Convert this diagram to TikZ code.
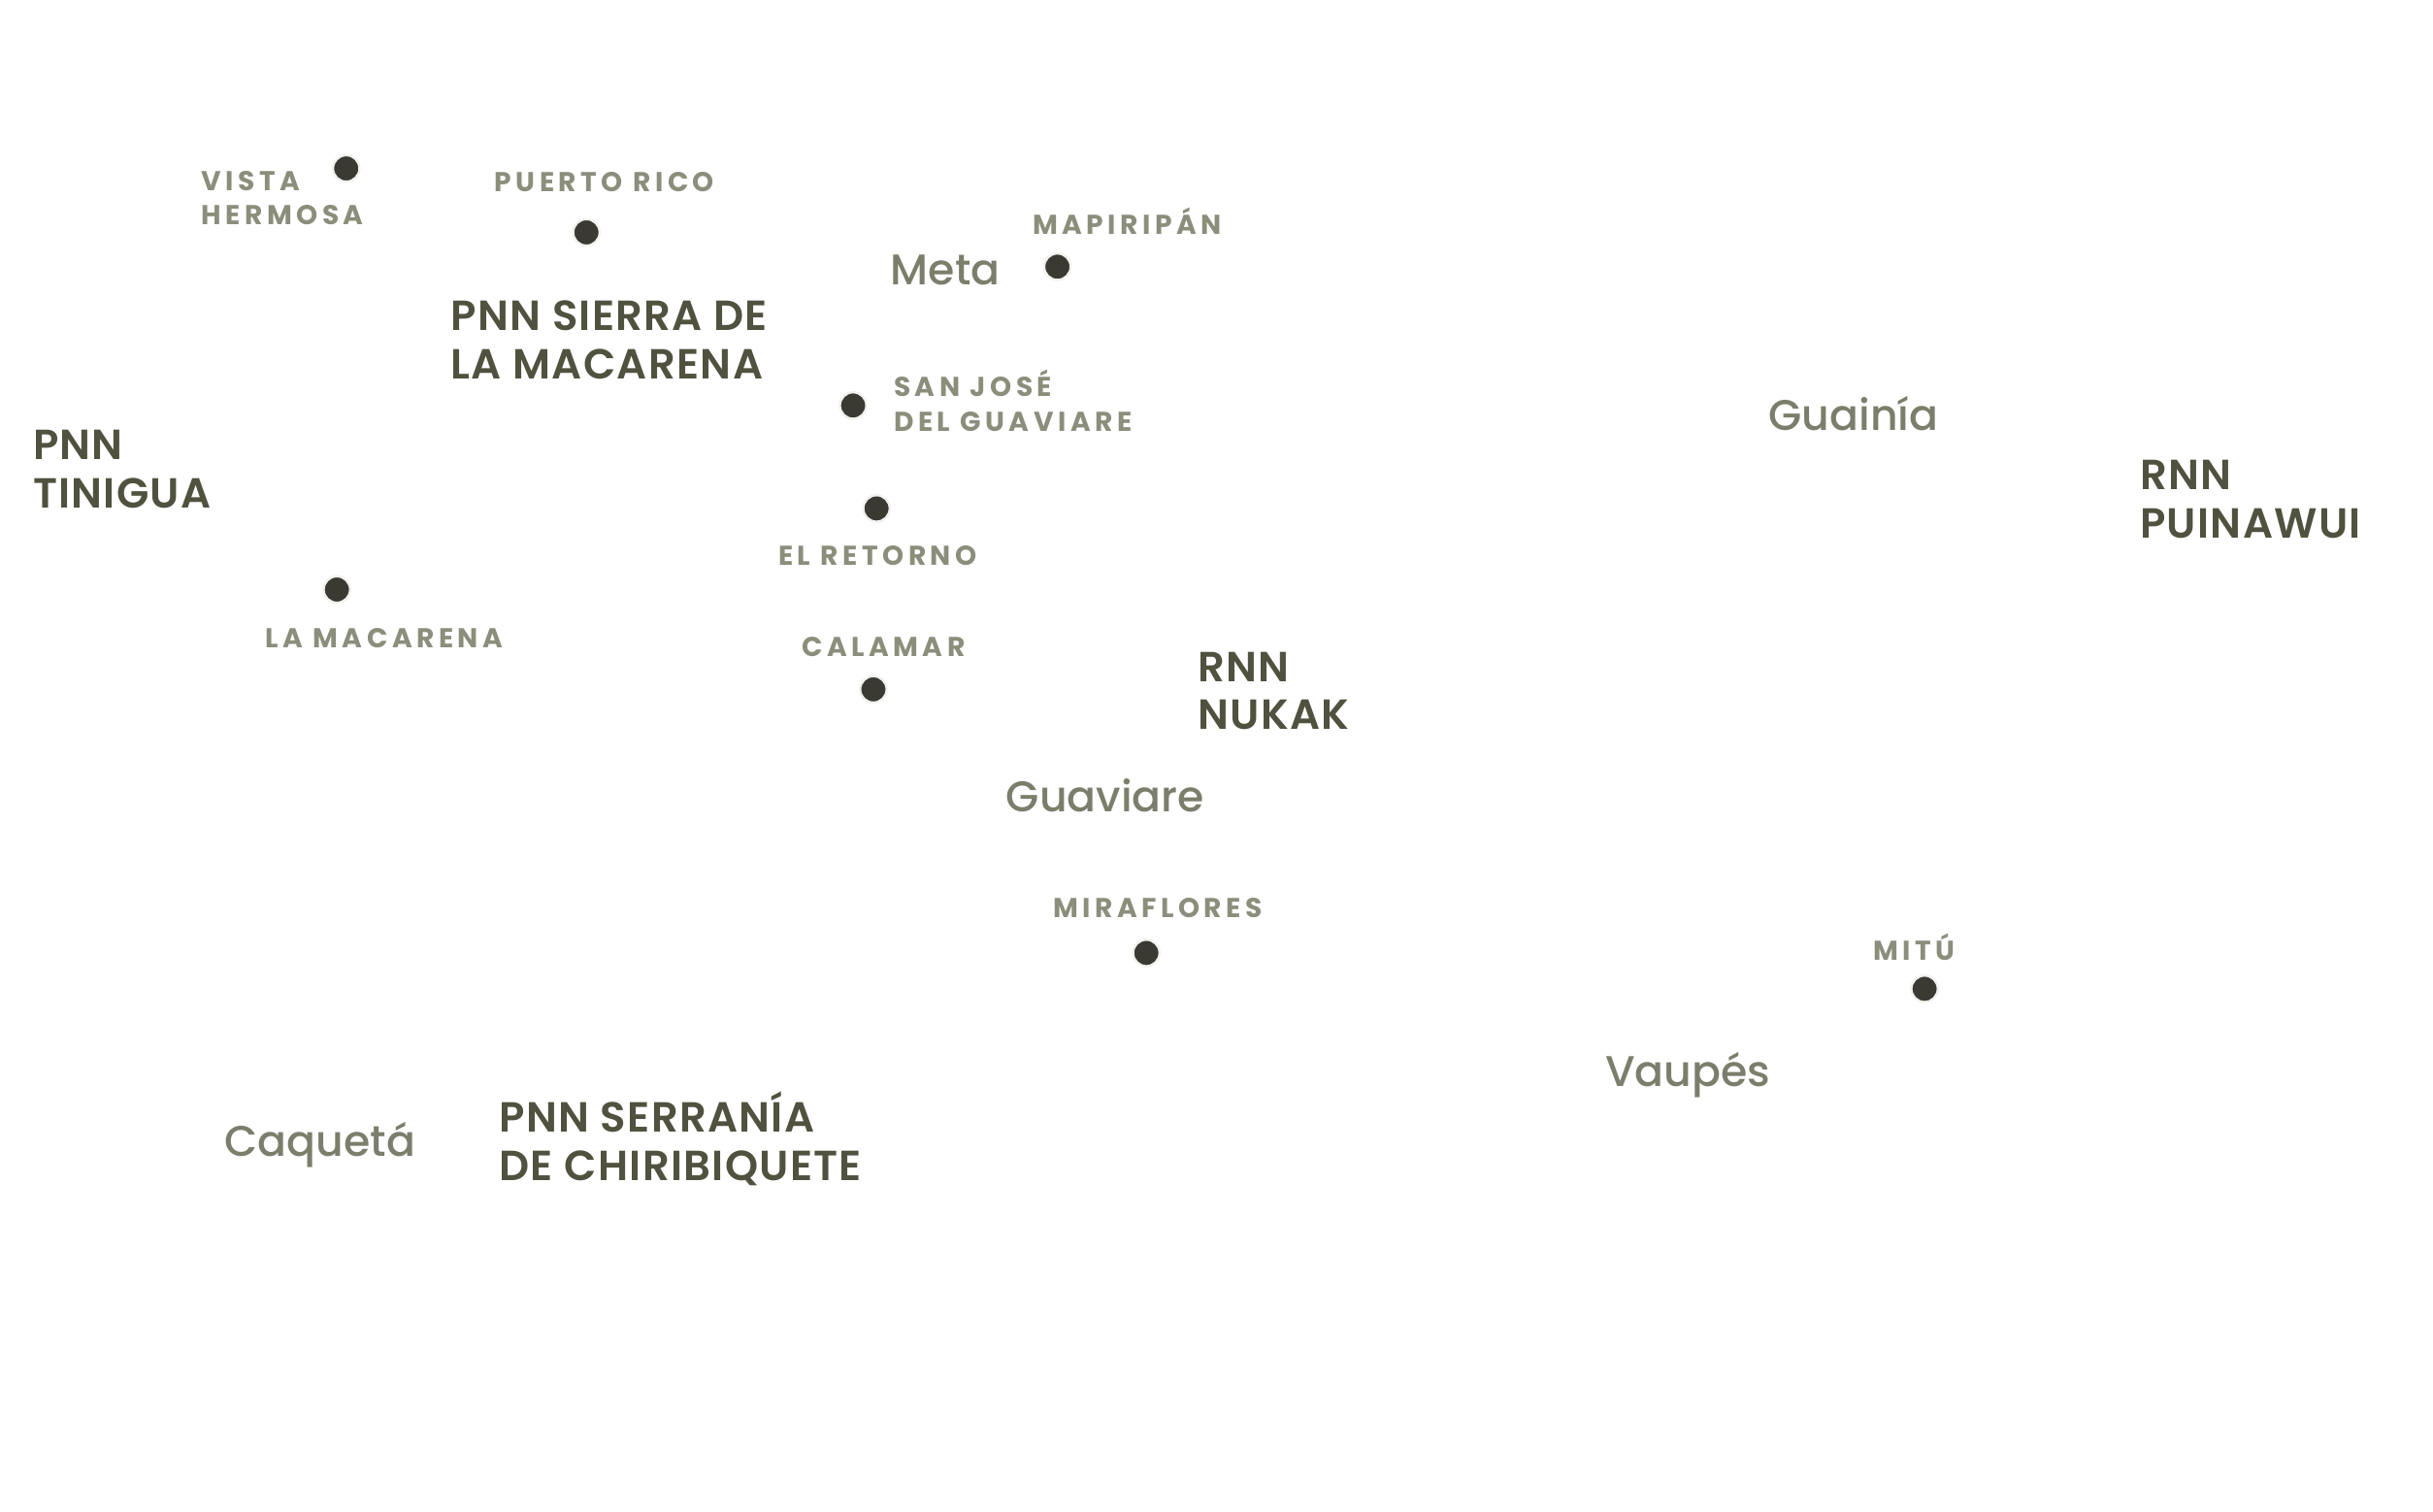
\documentclass[tikz,border=0pt]{standalone}
\usepackage{fontspec}
\setmainfont{Poppins}
\newfontfamily\cityf[LetterSpace=16,UprightFont=* Bold]{Poppins}
\newfontfamily\parkf[LetterSpace=3,UprightFont=* SemiBold]{Poppins}
\newfontfamily\regf[UprightFont=* Medium]{Poppins}
\definecolor{cityc}{HTML}{8C8E7C}
\definecolor{parkc}{HTML}{50523F}
\definecolor{regc}{HTML}{7C7E6C}
\definecolor{dotc}{HTML}{3A3A33}
\begin{document}
\begin{tikzpicture}[x=1pt,y=-1pt,
 city/.style={anchor=west,inner sep=0,text=cityc,font=\cityf\fontsize{17.5}{22}\selectfont,align=left},
 park/.style={anchor=west,inner sep=0,text=parkc,font=\parkf\fontsize{27}{31}\selectfont,align=left},
 reg/.style={anchor=west,inner sep=0,text=regc,font=\regf\fontsize{27.5}{30}\selectfont},
 dot/.style={circle,fill=dotc,draw=white!88!cityc,line width=1.5pt,minimum size=17pt,inner sep=0}]
\useasboundingbox (0,0) rectangle (1560,969);
\node[dot] (d1) at (222,108) {};
\node[dot] (d2) at (376,149) {};
\node[dot] (d3) at (678,171) {};
\node[dot] (d4) at (547,260) {};
\node[dot] (d5) at (562,326) {};
\node[dot] (d6) at (216,378) {};
\node[dot] (d7) at (560,442) {};
\node[dot] (d8) at (735,611) {};
\node[dot] (d9) at (1234,634) {};
\node[city] (c1) at (129,127) {VISTA\\HERMOSA};
\node[city] (c2) at (317,117) {PUERTO RICO};
\node[city] (c3) at (662,142) {MAPIRIPÁN};
\node[city] (c4) at (573,257) {SAN JOSÉ\\DEL GUAVIARE};
\node[city] (c5) at (499,356) {EL RETORNO};
\node[city] (c6) at (170,409) {LA MACARENA};
\node[city] (c7) at (514,415) {CALAMAR};
\node[city] (c8) at (675,582) {MIRAFLORES};
\node[city] (c9) at (1201,607) {MITÚ};
\node[park] (p1) at (289,218) {PNN SIERRA DE\\LA MACARENA};
\node[park] (p2) at (21,301) {PNN\\TINIGUA};
\node[park] (p3) at (1372,320) {RNN\\PUINAWUI};
\node[park] (p4) at (768,443) {RNN\\NUKAK};
\node[park] (p5) at (320,730) {PNN SERRANÍA\\DE CHIRIBIQUETE};
\node[reg] (r1) at (571,173) {Meta};
\node[reg] (r2) at (1134,265) {Guainía};
\node[reg] (r3) at (645,510) {Guaviare};
\node[reg] (r4) at (1029,689) {Vaupés};
\node[reg] (r5) at (144,734) {Caquetá};
\end{tikzpicture}
\end{document}
